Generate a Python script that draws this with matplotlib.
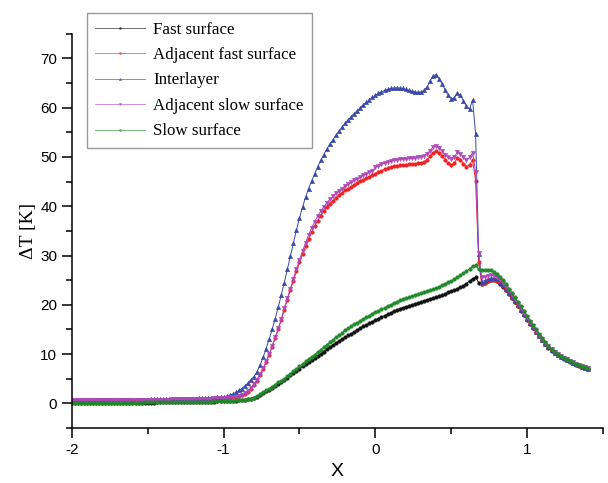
import numpy as np
import matplotlib
matplotlib.use("Agg")
import matplotlib.pyplot as plt
from matplotlib.ticker import MultipleLocator

plt.rcParams["axes.unicode_minus"] = False

# sample positions along X (step 0.02 from -2 to 1.4)
x = np.round(np.arange(171) * 0.02 - 2.0, 2)

fast_surface = [
    0.03, 0.03, 0.04, 0.04, 0.05, 0.05, 0.06, 0.06, 0.07, 0.07,
    0.08, 0.08, 0.09, 0.09, 0.10, 0.10, 0.11, 0.11, 0.12, 0.12,
    0.13, 0.13, 0.14, 0.14, 0.15, 0.15, 0.16, 0.16, 0.17, 0.17,
    0.18, 0.19, 0.19, 0.20, 0.21, 0.22, 0.23, 0.24, 0.25, 0.26,
    0.27, 0.28, 0.29, 0.30, 0.31, 0.33, 0.34, 0.36, 0.38, 0.40,
    0.42, 0.45, 0.48, 0.52, 0.56, 0.61, 0.67, 0.74, 0.82, 0.92,
    1.10, 1.38, 1.70, 2.05, 2.40, 2.80, 3.20, 3.60, 4.00, 4.40,
    4.80, 5.20, 5.70, 6.10, 6.60, 7.00, 7.50, 7.90, 8.40, 8.80,
    9.20, 9.70, 10.1, 10.5, 11.0, 11.4, 11.8, 12.2, 12.6, 13.0,
    13.4, 13.8, 14.1, 14.5, 14.9, 15.2, 15.6, 15.9, 16.2, 16.6,
    16.9, 17.2, 17.5, 17.8, 18.1, 18.4, 18.7, 18.9, 19.2, 19.4,
    19.6, 19.8, 20.0, 20.2, 20.4, 20.6, 20.8, 21.0, 21.2, 21.4,
    21.6, 21.8, 22.0, 22.2, 22.5, 22.7, 23.0, 23.3, 23.6, 23.9,
    24.3, 24.8, 25.3, 25.6, 24.5, 24.3, 24.5, 24.8, 25.0, 25.0,
    24.8, 24.3, 23.7, 22.9, 22.1, 21.3, 20.5, 19.7, 18.8, 17.9,
    17.0, 16.1, 15.2, 14.4, 13.6, 12.8, 12.0, 11.3, 10.7, 10.2,
    9.8, 9.4, 9.0, 8.7, 8.4, 8.1, 7.8, 7.6, 7.3, 7.1,
    6.9,
]

adjacent_fast = [
    0.55, 0.55, 0.56, 0.56, 0.57, 0.57, 0.58, 0.58, 0.59, 0.59,
    0.60, 0.60, 0.61, 0.61, 0.62, 0.62, 0.63, 0.63, 0.64, 0.64,
    0.65, 0.65, 0.66, 0.67, 0.67, 0.68, 0.68, 0.69, 0.70, 0.70,
    0.71, 0.72, 0.72, 0.73, 0.74, 0.75, 0.76, 0.77, 0.78, 0.79,
    0.80, 0.81, 0.83, 0.84, 0.86, 0.88, 0.90, 0.93, 0.96, 1.00,
    1.03, 1.08, 1.14, 1.22, 1.32, 1.46, 1.66, 1.94, 2.35, 2.90,
    3.70, 4.60, 5.70, 6.90, 8.30, 9.80, 11.5, 13.2, 15.0, 16.9,
    19.0, 21.0, 23.0, 24.9, 26.8, 28.6, 30.3, 31.9, 33.4, 34.8,
    36.0, 37.1, 38.1, 39.0, 39.8, 40.5, 41.1, 41.7, 42.2, 42.7,
    43.2, 43.6, 44.0, 44.4, 44.7, 45.1, 45.4, 45.7, 46.0, 46.3,
    46.6, 46.9, 47.2, 47.5, 47.7, 47.9, 48.1, 48.2, 48.3, 48.4,
    48.4, 48.5, 48.5, 48.6, 48.7, 48.8, 49.0, 49.4, 50.1, 50.9,
    51.2, 50.8, 50.2, 49.4, 48.7, 48.3, 48.8, 49.8, 49.4, 48.6,
    48.0, 48.4, 49.4, 45.2, 28.7, 24.2, 24.4, 24.8, 25.0, 25.1,
    24.9, 24.4, 23.8, 23.0, 22.2, 21.4, 20.6, 19.8, 18.9, 18.0,
    17.1, 16.2, 15.3, 14.5, 13.7, 12.9, 12.1, 11.4, 10.8, 10.3,
    9.9, 9.5, 9.1, 8.8, 8.5, 8.2, 7.9, 7.7, 7.4, 7.2,
    7.0,
]

interlayer = [
    0.60, 0.61, 0.62, 0.62, 0.63, 0.64, 0.64, 0.65, 0.66, 0.66,
    0.67, 0.68, 0.68, 0.69, 0.70, 0.70, 0.71, 0.72, 0.72, 0.73,
    0.74, 0.74, 0.75, 0.76, 0.77, 0.77, 0.78, 0.79, 0.80, 0.81,
    0.82, 0.83, 0.84, 0.85, 0.86, 0.87, 0.88, 0.90, 0.91, 0.93,
    0.94, 0.96, 0.98, 1.00, 1.03, 1.06, 1.10, 1.14, 1.19, 1.25,
    1.32, 1.45, 1.65, 1.90, 2.20, 2.60, 3.00, 3.50, 4.10, 4.80,
    5.40, 6.40, 7.70, 9.30, 11.1, 13.0, 15.0, 17.2, 19.5, 22.0,
    24.5, 27.2, 29.9, 32.6, 35.2, 37.6, 39.8, 41.8, 43.6, 45.1,
    46.6, 48.0, 49.3, 50.5, 51.6, 52.6, 53.5, 54.4, 55.2, 56.0,
    56.8, 57.5, 58.2, 58.8, 59.4, 60.0, 60.6, 61.1, 61.6, 62.1,
    62.5, 62.9, 63.2, 63.5, 63.7, 63.9, 64.0, 64.0, 64.0, 63.9,
    63.7, 63.5, 63.3, 63.2, 63.1, 63.2, 63.5, 64.2, 65.4, 66.5,
    66.7, 65.9, 64.8, 63.6, 62.5, 61.8, 62.0, 63.0, 62.5, 61.4,
    60.3, 59.7, 61.6, 54.7, 30.4, 24.7, 24.9, 25.2, 25.4, 25.4,
    25.2, 24.7, 24.0, 23.2, 22.4, 21.6, 20.7, 19.9, 19.0, 18.1,
    17.2, 16.3, 15.4, 14.5, 13.7, 12.9, 12.1, 11.4, 10.8, 10.3,
    9.9, 9.5, 9.1, 8.8, 8.5, 8.2, 7.9, 7.7, 7.4, 7.2,
    7.0,
]

adjacent_slow = [
    0.60, 0.60, 0.61, 0.61, 0.62, 0.62, 0.63, 0.63, 0.64, 0.64,
    0.65, 0.65, 0.66, 0.66, 0.67, 0.67, 0.68, 0.68, 0.69, 0.69,
    0.70, 0.70, 0.71, 0.72, 0.72, 0.73, 0.73, 0.74, 0.75, 0.75,
    0.76, 0.77, 0.77, 0.78, 0.79, 0.80, 0.81, 0.82, 0.83, 0.84,
    0.85, 0.86, 0.88, 0.89, 0.91, 0.93, 0.95, 0.98, 1.01, 1.05,
    1.08, 1.13, 1.19, 1.27, 1.38, 1.53, 1.75, 2.05, 2.50, 3.10,
    3.90, 4.80, 5.90, 7.10, 8.50, 10.0, 11.7, 13.4, 15.2, 17.1,
    19.3, 21.3, 23.3, 25.3, 27.3, 29.1, 30.9, 32.6, 34.2, 35.6,
    36.9, 38.0, 39.0, 39.9, 40.7, 41.4, 42.0, 42.6, 43.1, 43.6,
    44.1, 44.5, 44.9, 45.3, 45.6, 46.0, 46.3, 46.6, 46.9, 47.2,
    47.9, 48.2, 48.5, 48.8, 49.0, 49.2, 49.3, 49.4, 49.5, 49.6,
    49.6, 49.7, 49.7, 49.8, 49.9, 50.0, 50.2, 50.6, 51.3, 52.0,
    52.2, 51.8, 51.2, 50.5, 49.9, 49.6, 50.0, 51.0, 50.6, 49.9,
    49.4, 49.9, 50.9, 46.9, 30.5, 25.6, 25.7, 25.9, 26.0, 25.9,
    25.6, 25.1, 24.4, 23.6, 22.8, 21.9, 21.1, 20.2, 19.3, 18.4,
    17.5, 16.5, 15.6, 14.7, 13.9, 13.1, 12.3, 11.6, 11.0, 10.4,
    10.0, 9.6, 9.2, 8.9, 8.6, 8.3, 8.0, 7.8, 7.5, 7.3,
    7.1,
]

slow_surface = [
    0.05, 0.05, 0.06, 0.06, 0.07, 0.07, 0.08, 0.08, 0.09, 0.09,
    0.10, 0.10, 0.11, 0.11, 0.12, 0.12, 0.13, 0.13, 0.14, 0.14,
    0.15, 0.15, 0.16, 0.16, 0.17, 0.17, 0.18, 0.18, 0.19, 0.19,
    0.20, 0.21, 0.21, 0.22, 0.23, 0.24, 0.25, 0.26, 0.27, 0.28,
    0.29, 0.30, 0.31, 0.32, 0.33, 0.35, 0.36, 0.38, 0.40, 0.42,
    0.44, 0.47, 0.50, 0.54, 0.58, 0.63, 0.69, 0.76, 0.85, 0.95,
    1.15, 1.45, 1.80, 2.20, 2.60, 3.00, 3.40, 3.80, 4.30, 4.60,
    5.00, 5.50, 6.00, 6.50, 7.00, 7.50, 8.00, 8.50, 9.00, 9.50,
    9.90, 10.4, 10.9, 11.4, 11.9, 12.4, 12.9, 13.4, 13.9, 14.3,
    14.8, 15.2, 15.6, 16.0, 16.4, 16.8, 17.1, 17.5, 17.8, 18.2,
    18.5, 18.8, 19.1, 19.4, 19.7, 20.0, 20.3, 20.6, 20.9, 21.1,
    21.3, 21.5, 21.7, 21.9, 22.1, 22.3, 22.5, 22.7, 22.9, 23.2,
    23.4, 23.7, 24.0, 24.3, 24.6, 24.9, 25.2, 25.6, 26.0, 26.4,
    26.8, 27.3, 27.8, 28.0, 27.2, 27.0, 27.1, 27.1, 27.0, 26.7,
    26.3, 25.7, 25.0, 24.2, 23.3, 22.4, 21.5, 20.6, 19.7, 18.7,
    17.8, 16.8, 15.9, 15.0, 14.1, 13.3, 12.5, 11.7, 11.0, 10.5,
    10.0, 9.6, 9.2, 8.9, 8.6, 8.3, 8.0, 7.7, 7.5, 7.3,
    7.1,
]

series = [
    ("Fast surface", fast_surface, "#111111", "o", 2.6),
    ("Adjacent fast surface", adjacent_fast, "#f02020", "o", 2.6),
    ("Interlayer", interlayer, "#3848a8", "^", 3.2),
    ("Adjacent slow surface", adjacent_slow, "#b048b8", "v", 3.2),
    ("Slow surface", slow_surface, "#208a28", "o", 2.6),
]

fig = plt.figure(figsize=(6.08, 4.83), dpi=100)
ax = fig.add_axes([0.118, 0.114, 0.874, 0.816])

for label, vals, color, marker, ms in series:
    ax.plot(x, vals, color=color, lw=0.7, marker=marker, ms=ms,
            mec=color, mfc=color, mew=0.3, label=label)

ax.set_xlim(-2, 1.5)
ax.set_ylim(-5, 75)
ax.xaxis.set_major_locator(MultipleLocator(1))
ax.xaxis.set_minor_locator(MultipleLocator(0.5))
ax.yaxis.set_major_locator(MultipleLocator(10))
ax.yaxis.set_minor_locator(MultipleLocator(5))
ax.spines["top"].set_visible(False)
ax.spines["right"].set_visible(False)
for s in ("left", "bottom"):
    ax.spines[s].set_linewidth(1.1)
ax.tick_params(which="major", direction="out", length=7, width=1.1,
               labelsize=11)
ax.tick_params(which="minor", direction="out", length=4.5, width=1.1)
for lab in ax.get_xticklabels() + ax.get_yticklabels():
    lab.set_family("Liberation Sans")

ax.set_xlabel("X", family="Liberation Sans", fontsize=14, labelpad=5)
ax.set_ylabel("\u0394T [K]", family="Liberation Serif", fontsize=14,
              labelpad=2)

leg = ax.legend(loc="upper left", bbox_to_anchor=(0.143, 0.973),
                bbox_transform=fig.transFigure, borderaxespad=0,
                frameon=True, fancybox=False, edgecolor="#999999",
                framealpha=1,
                prop={"family": "Liberation Serif", "size": 12.2},
                handlelength=2.9, markerscale=0.6, numpoints=1,
                labelspacing=0.56, borderpad=0.5, handletextpad=0.5)
leg.get_frame().set_linewidth(1.0)
for h in leg.get_lines():
    h.set_alpha(0.6)

fig.savefig("out.png", dpi=100)
